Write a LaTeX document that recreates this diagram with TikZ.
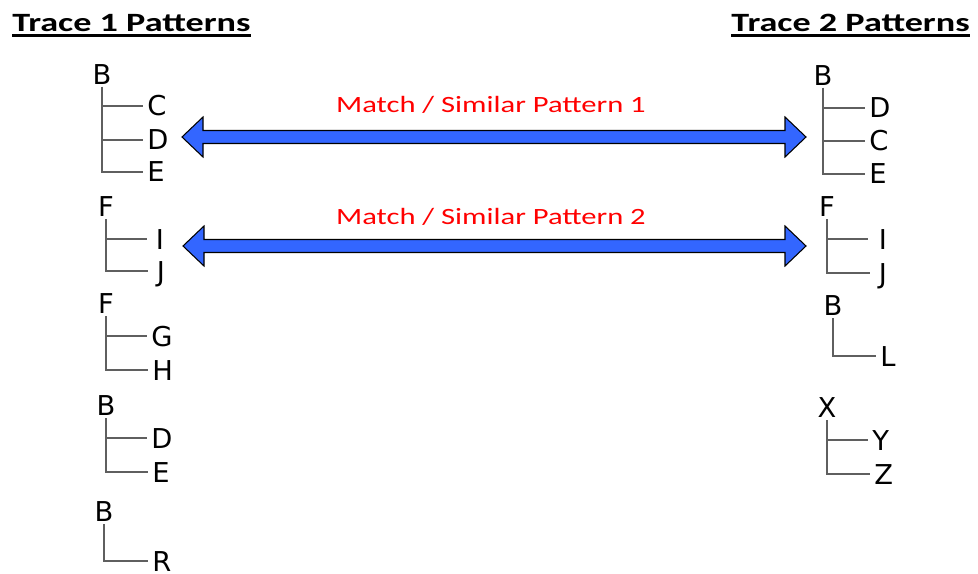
\documentclass[tikz,border=0pt]{standalone}
\usepackage{fontspec}
\setmainfont{DejaVu Sans}
\newfontfamily\headfont[FakeStretch=1.37]{Carlito}
\newfontfamily\matchfont[FakeStretch=1.31]{Carlito}
\usetikzlibrary{calc}

\definecolor{arrowblue}{HTML}{3366FF}
\definecolor{branchgray}{HTML}{5F5F5F}

% fat double-headed arrow between two coordinates on one row
\newcommand\matcharrow[2]{%
	\filldraw[fill=arrowblue,draw=black,line width=0.8pt,line join=miter]
		(#1) -- ($(#1)+(21,-20)$) -- ($(#1)+(21,-6.5)$) -- ($(#2)+(-21,-6.5)$)
		-- ($(#2)+(-21,-20)$) -- (#2) -- ($(#2)+(-21,20)$) -- ($(#2)+(-21,6.5)$)
		-- ($(#1)+(21,6.5)$) -- ($(#1)+(21,20)$) -- cycle;}

\begin{document}
\begin{tikzpicture}[x=0.75pt,y=-0.75pt]
	\tikzstyle{every node}=[inner sep=0pt]
	\tikzstyle{root}=[font=\fontsize{20.5}{24}\selectfont,anchor=south,inner sep=1.5pt,text depth=0pt]
	\tikzstyle{leaf}=[font=\fontsize{20.5}{24}\selectfont,anchor=west,inner xsep=3pt,inner ysep=0pt,text height=15pt,text depth=0pt]
	\tikzstyle{narrow}=[inner xsep=6.5pt]
	\tikzstyle{branch}=[draw=branchgray,line width=1.1pt]
	\tikzstyle{header}=[font=\headfont\bfseries\fontsize{19.8}{24}\selectfont,anchor=base west]
	\tikzstyle{match}=[font=\matchfont\fontsize{17.5}{21}\selectfont,text=red,anchor=base]
	\useasboundingbox (0,0) rectangle (978,574);

	% headings
	\node[header] (t1) at (12,32) {Trace 1 Patterns};
	\node[header,anchor=base east] (t2) at (970,32) {Trace 2 Patterns};
	\foreach \t in {t1,t2}
		\draw[line width=2.2pt] ([yshift=-2.6pt]\t.base west) -- ([yshift=-2.6pt]\t.base east);

	% trace 1
	\node[root] (l1) at (102,87) {B};
	\node[leaf] (l1c) at (143,106) {C};
	\node[leaf] (l1d) at (143,140) {D};
	\node[leaf] (l1e) at (143,172) {E};

	\node[root] (l2) at (106,219) {F};
	\node[leaf,narrow] (l2i) at (147,239) {I};
	\node[leaf,narrow] (l2j) at (148,271) {J};

	\node[root] (l3) at (106,316) {F};
	\node[leaf] (l3g) at (147,336) {G};
	\node[leaf] (l3h) at (148,370) {H};

	\node[root] (l4) at (106,418) {B};
	\node[leaf] (l4d) at (147,438) {D};
	\node[leaf] (l4e) at (148,472) {E};

	\node[root] (l5) at (104,524) {B};
	\node[leaf] (l5r) at (148,561) {R};

	% trace 2
	\node[root] (r1) at (823,88) {B};
	\node[leaf] (r1d) at (865,108) {D};
	\node[leaf] (r1c) at (865,141) {C};
	\node[leaf] (r1e) at (865,174) {E};

	\node[root] (r2) at (827,219) {F};
	\node[leaf,narrow,inner xsep=8pt] (r2i) at (868,239) {I};
	\node[leaf,narrow] (r2j) at (870,273) {J};

	\node[root] (r3) at (833,318) {B};
	\node[leaf] (r3l) at (876,356) {L};

	\node[root] (r4) at (827,420) {X};
	\node[leaf] (r4y) at (868,440) {Y};
	\node[leaf] (r4z) at (870,474) {Z};

	\foreach \p/\c in {l1/l1c,l1/l1d,l1/l1e,l2/l2i,l2/l2j,l3/l3g,l3/l3h,l4/l4d,l4/l4e,l5/l5r,
			r1/r1d,r1/r1c,r1/r1e,r2/r2i,r2/r2j,r3/r3l,r4/r4y,r4/r4z}
		\draw[branch] (\p.south) |- (\c.west);

	% matches
	\coordinate (m1l) at (182,137);
	\coordinate (m1r) at (806,137);
	\coordinate (m2l) at (183,246);
	\coordinate (m2r) at (806,246);
	\matcharrow{m1l}{m1r}
	\matcharrow{m2l}{m2r}
	\node[match] (m1) at (491,113) {Match / Similar Pattern 1};
	\node[match] (m2) at (491,224) {Match / Similar Pattern 2};
\end{tikzpicture}
\end{document}
